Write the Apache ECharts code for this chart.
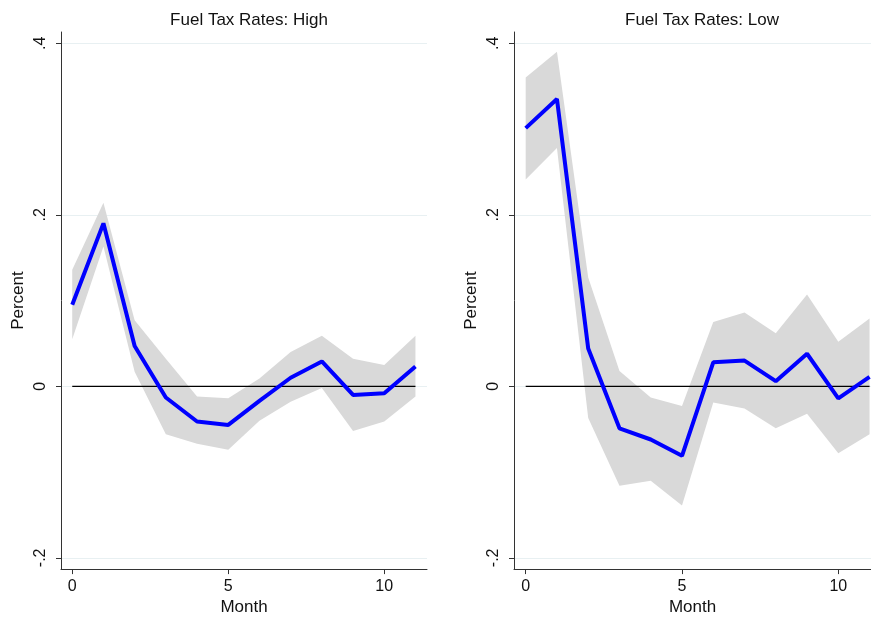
<!DOCTYPE html>
<html><head><meta charset="utf-8">
<script src="https://cdn.jsdelivr.net/npm/echarts@6/dist/echarts.min.js"></script>
<style>html,body{margin:0;padding:0;background:#fff}#c{width:871px;height:621px}</style>
</head><body><div id="c"></div>
<script>
const months = [0,1,2,3,4,5,6,7,8,9,10,11];
const highEst   = [0.095, 0.190, 0.047, -0.013, -0.041, -0.045, -0.017, 0.010, 0.029, -0.010, -0.008, 0.023];
const highUpper = [0.136, 0.214, 0.077, 0.032, -0.012, -0.014, 0.009, 0.040, 0.059, 0.032, 0.025, 0.059];
const highLower = [0.055, 0.163, 0.017, -0.056, -0.067, -0.074, -0.040, -0.018, -0.002, -0.052, -0.041, -0.012];
const lowEst    = [0.301, 0.335, 0.044, -0.049, -0.062, -0.081, 0.028, 0.030, 0.006, 0.038, -0.014, 0.011];
const lowUpper  = [0.360, 0.390, 0.127, 0.018, -0.013, -0.023, 0.075, 0.086, 0.062, 0.107, 0.052, 0.079];
const lowLower  = [0.241, 0.278, -0.037, -0.116, -0.110, -0.139, -0.019, -0.026, -0.049, -0.032, -0.078, -0.056];
const xTicks = [0, 5, 10];
const yTicks = [-0.2, 0, 0.2, 0.4];
const yTickLabels = ['-.2', '0', '.2', '.4'];
const panelTitles = ['Fuel Tax Rates: High', 'Fuel Tax Rates: Low'];
const xTitle = 'Month';
const yTitle = 'Percent';

const FONT = 'Liberation Sans, Arial, sans-serif';
const axisColor = '#333';
const panels = [
  {est: highEst, up: highUpper, lo: highLower},
  {est: lowEst, up: lowUpper, lo: lowLower}
];
const gridLefts = [61, 514];
const gridWidths = [366, 357];
const xMins = [-0.36, -0.374];
const xMaxs = [11.37, 11.046];
const titleCenters = [244, 697];

const pts = arr => months.map((m, i) => [m, arr[i]]);
const yFmt = v => {
  const i = yTicks.findIndex(t => Math.abs(t - v) < 1e-9);
  return i >= 0 ? yTickLabels[i] : '';
};

const option = {
  animation: false,
  backgroundColor: '#fff',
  title: panelTitles.map((t, k) => ({
    text: t, left: titleCenters[k], top: 7, textAlign: 'center',
    textStyle: {fontFamily: FONT, fontSize: 17, fontWeight: 'normal', color: '#111'}
  })),
  grid: gridLefts.map((l, k) => ({left: l, top: 32, width: gridWidths[k], height: 540, containLabel: false})),
  xAxis: gridLefts.map((l, k) => ({
    type: 'value', gridIndex: k, min: xMins[k], max: xMaxs[k],
    name: xTitle, nameLocation: 'middle', nameGap: 29,
    nameTextStyle: {fontFamily: FONT, fontSize: 17, color: '#111'},
    axisLine: {show: true, onZero: false, lineStyle: {color: axisColor, width: 1}},
    axisTick: {show: true, length: 5, customValues: xTicks, lineStyle: {color: axisColor}},
    axisLabel: {customValues: xTicks, margin: 9, fontFamily: FONT, fontSize: 16, color: '#111'},
    splitLine: {show: false}
  })),
  yAxis: gridLefts.map((l, k) => ({
    type: 'value', gridIndex: k, min: -0.2131, max: 0.4131,
    name: yTitle, nameLocation: 'middle', nameGap: 34, nameRotate: 90,
    nameTextStyle: {fontFamily: FONT, fontSize: 17, color: '#111'},
    axisLine: {show: true, onZero: false, lineStyle: {color: axisColor, width: 1}},
    axisTick: {show: true, length: 5, customValues: yTicks, lineStyle: {color: axisColor}},
    axisLabel: {customValues: yTicks, rotate: 90, margin: 12, formatter: yFmt,
                fontFamily: FONT, fontSize: 16, color: '#111'},
    splitLine: {show: false}
  })),
  series: []
};

panels.forEach((p, k) => {
  // gridlines
  option.series.push({
    type: 'line', xAxisIndex: k, yAxisIndex: k, data: [], silent: true, z: 0,
    markLine: {
      silent: true, symbol: 'none', label: {show: false}, z: 0,
      lineStyle: {color: '#e8f0f2', width: 1, type: 'solid'},
      data: yTicks.map(v => ({yAxis: v}))
    }
  });
  // confidence band polygon
  option.series.push({
    type: 'custom', xAxisIndex: k, yAxisIndex: k, z: 1, silent: true,
    data: months.map((m, i) => [m, p.lo[i], p.up[i]]),
    encode: {x: 0, y: [1, 2]},
    renderItem: (params, api) => {
      if (params.dataIndex !== 0) return null;
      const upperPts = months.map((m, i) => api.coord([m, p.up[i]]));
      const lowerPts = months.map((m, i) => api.coord([m, p.lo[i]])).reverse();
      return {
        type: 'polygon',
        shape: {points: upperPts.concat(lowerPts)},
        style: {fill: '#d9d9d9', stroke: null}
      };
    }
  });
  // zero reference line
  option.series.push({
    type: 'line', xAxisIndex: k, yAxisIndex: k,
    data: [[months[0], 0], [months[months.length - 1], 0]], symbol: 'none',
    lineStyle: {color: '#000', width: 1.3}, z: 3, silent: true
  });
  // estimate
  option.series.push({
    type: 'line', xAxisIndex: k, yAxisIndex: k, data: pts(p.est), symbol: 'none',
    lineStyle: {color: '#0000ff', width: 4}, z: 4, silent: true
  });
});

const chart = echarts.init(document.getElementById('c'), null, {renderer: 'canvas'});
chart.setOption(option);
</script>
</body></html>
